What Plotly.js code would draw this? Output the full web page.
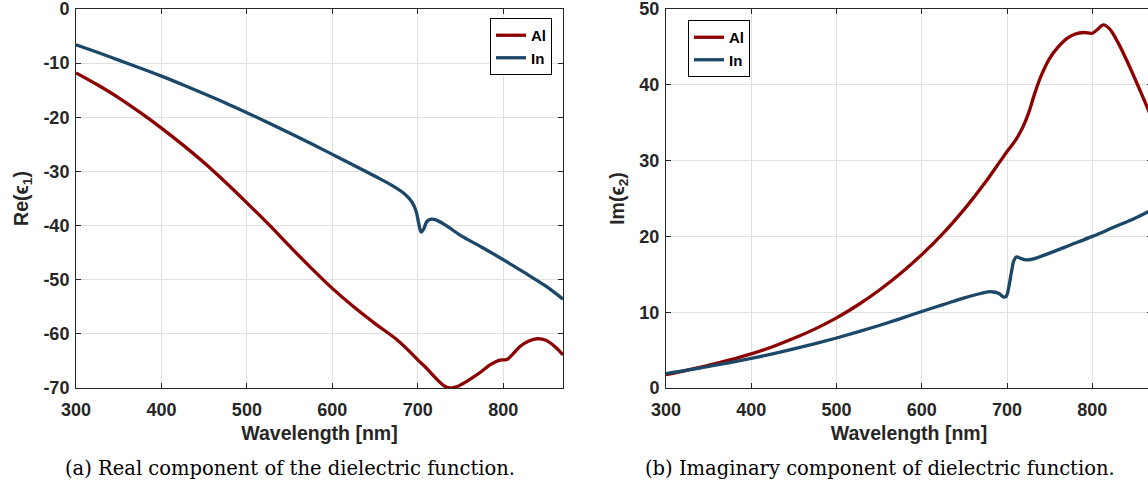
<!DOCTYPE html>
<html>
<head>
<meta charset="utf-8">
<script src="https://cdn.plot.ly/plotly-3.0.1.min.js"></script>
<style>
html, body { margin:0; padding:0; overflow:hidden; background:#fff; }
#chart { width:1152px; height:488px; }
</style>
</head>
<body>
<div id="chart"></div>
<script>
// ---- Data ----
const reAlWl = [300,325,350,375,400,425,450,475,500,525,550,575,600,625,650,675,690,700,710,720,730,738,745,755,765,775,785,795,800,805,812,820,830,840,850,860,870];
const reAl   = [-11.8,-14.0,-16.4,-19.1,-22.0,-25.1,-28.4,-32.0,-35.8,-39.7,-43.8,-47.8,-51.6,-55.0,-58.1,-61.0,-63.2,-64.8,-66.3,-68.0,-69.5,-70.0,-69.8,-69.0,-68.0,-66.9,-65.7,-64.9,-64.8,-64.7,-63.6,-62.3,-61.3,-60.9,-61.2,-62.3,-63.9];

const reInWl = [300,325,350,375,400,425,450,475,500,525,550,575,600,625,650,670,685,693,698,701,704,707,711,716,722,735,750,775,800,825,850,870];
const reIn   = [-6.6,-8.0,-9.45,-10.9,-12.4,-14.0,-15.65,-17.35,-19.15,-21.0,-22.9,-24.85,-26.85,-28.85,-30.9,-32.6,-34.2,-35.6,-37.3,-39.5,-41.2,-40.6,-39.2,-38.8,-39.0,-40.2,-41.8,-44.0,-46.3,-48.7,-51.2,-53.6];

const imAlWl = [300,325,350,375,400,425,450,475,500,525,550,575,600,625,650,675,690,700,710,718,725,732,740,750,760,770,780,790,800,806,813,820,830,840,850,860,870];
const imAl   = [1.75,2.35,3.0,3.7,4.5,5.45,6.55,7.8,9.25,10.95,12.9,15.1,17.6,20.4,23.6,27.2,29.6,31.2,32.7,34.3,36.2,38.7,41.2,43.5,45.0,46.1,46.7,46.9,46.8,47.3,47.9,47.4,45.6,43.3,40.8,38.2,35.5];

const imInWl = [300,325,350,375,400,425,450,475,500,525,550,575,600,625,650,670,682,690,696,699,702,705,708,711,716,722,730,750,775,800,825,850,870];
const imIn   = [1.9,2.35,2.85,3.35,3.9,4.5,5.15,5.85,6.6,7.4,8.25,9.15,10.1,11.0,11.9,12.5,12.7,12.5,12.0,12.1,13.3,15.2,16.8,17.3,17.1,16.9,17.0,17.8,18.9,20.0,21.2,22.4,23.5];

const seriesNames = ['Al','In'];
const xTicks = [300,400,500,600,700,800];
const reTicks = [0,-10,-20,-30,-40,-50,-60,-70];
const reTickText = ['0','-10','-20','-30','-40','-50','-60','-70'];
const imTicks = [0,10,20,30,40,50];
const imTickText = ['0','10','20','30','40','50'];
const captions = ['(a) Real component of the dielectric function.','(b) Imaginary component of dielectric function.'];

// ---- Styles ----
const W = 1152, H = 488;
const colAl = '#8c0000', colIn = '#1b4768';
const dark = '#262626';
const sans = 'Liberation Sans, Arial, sans-serif';
const tickFont = {family:sans, size:18, color:dark, weight:'bold'};
const titleFont = {family:sans, size:19.5, color:dark, weight:'bold'};
const legFont = {family:sans, size:15, color:'#000', weight:'bold'};
const capFont = {family:'DejaVu Serif, Liberation Serif, serif', size:19.5, color:'#000'};

function line(x, y, name, color, xa, ya, leg){
  return {x:x, y:y, name:name, type:'scatter', mode:'lines', xaxis:xa, yaxis:ya, legend:leg,
          line:{color:color, width:3.3, shape:'spline', smoothing:1}, hoverinfo:'skip'};
}
const traces = [
  line(reAlWl, reAl, seriesNames[0], colAl, 'x', 'y', 'legend'),
  line(reInWl, reIn, seriesNames[1], colIn, 'x', 'y', 'legend'),
  line(imAlWl, imAl, seriesNames[0], colAl, 'x2', 'y2', 'legend2'),
  line(imInWl, imIn, seriesNames[1], colIn, 'x2', 'y2', 'legend2')
];

function xax(dom, anchor){
  return {domain:dom, anchor:anchor, range:[300,870], tickmode:'array', tickvals:xTicks,
    ticks:'inside', ticklen:5, tickwidth:1, tickcolor:dark, showline:true, linecolor:dark, linewidth:1,
    mirror:'ticks', showgrid:true, gridcolor:'#e0e0e0', gridwidth:1, zeroline:false,
    tickfont:tickFont, ticklabelstandoff:5, ticklabeloverflow:'allow',
    title:{text:'Wavelength [nm]', font:titleFont, standoff:7}};
}
function yax(range, vals, text, title, anchor){
  return {domain:[0,1], anchor:anchor, range:range, tickmode:'array', tickvals:vals, ticktext:text,
    ticks:'inside', ticklen:5, tickwidth:1, tickcolor:dark, showline:true, linecolor:dark, linewidth:1,
    mirror:'ticks', showgrid:true, gridcolor:'#e0e0e0', gridwidth:1, zeroline:false,
    tickfont:tickFont, ticklabelstandoff:2, ticklabeloverflow:'allow',
    title:{text:title, font:titleFont, standoff:9}};
}

const layout = {
  width:W, height:H, autosize:false,
  margin:{l:0, r:0, t:9, b:100, pad:0},
  paper_bgcolor:'#fff', plot_bgcolor:'#fff',
  xaxis: xax([76/W, 563/W], 'y'),
  yaxis: yax([-70,0], reTicks, reTickText, 'Re(ϵ<sub>1</sub>)', 'x'),
  xaxis2: xax([666/W, 1], 'y2'),
  yaxis2: yax([0,50], imTicks, imTickText, 'Im(ϵ<sub>2</sub>)', 'x2'),
  legend:{x:552/W, y:1-9/379, xanchor:'right', yanchor:'top', bgcolor:'#fff',
          bordercolor:'#000', borderwidth:1, font:legFont, tracegroupgap:0},
  legend2:{x:688/W, y:1-11/379, xanchor:'left', yanchor:'top', bgcolor:'#fff',
          bordercolor:'#000', borderwidth:1, font:legFont, tracegroupgap:0},
  showlegend:true,
  annotations:[
    {text:captions[0], xref:'paper', yref:'paper', x:290/W, y:-(468-388)/379, xanchor:'center', yanchor:'middle',
     showarrow:false, font:capFont},
    {text:captions[1], xref:'paper', yref:'paper', x:880/W, y:-(468-388)/379, xanchor:'center', yanchor:'middle',
     showarrow:false, font:capFont}
  ]
};

Plotly.newPlot('chart', traces, layout, {displayModeBar:false, staticPlot:true});
</script>
</body>
</html>
